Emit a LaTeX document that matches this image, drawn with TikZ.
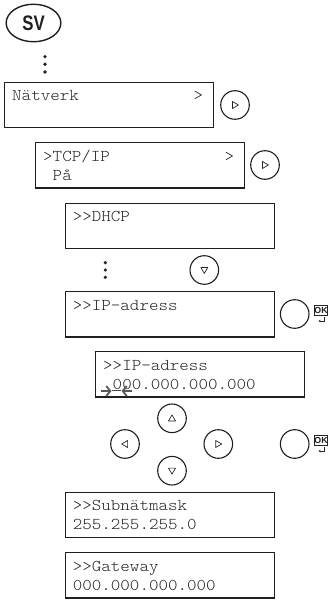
\documentclass[tikz,border=0pt]{standalone}
\usepackage{fontspec}
\usetikzlibrary{shapes.geometric,arrows.meta}
\newfontfamily\lcdfont[FakeStretch=1.1]{Latin Modern Mono Light}
\newfontfamily\labelfont{Liberation Sans}
\begin{document}
\begin{tikzpicture}[x=1pt,y=-1pt,
  lcd/.style={draw=black!88, line width=1.4pt, minimum width=209pt, minimum height=45.3pt,
    anchor=north west, inner sep=0pt, outer sep=0pt},
  lcdtext/.style={anchor=base west, inner sep=0pt,
    font=\lcdfont\fontsize{16.5}{18}\selectfont, text=black!85},
  key/.style={circle, draw=black!88, line width=1.1pt, minimum size=28.6pt, inner sep=0pt},
  glyph/.style={draw=black!85, line width=0.7pt, line join=round},
  dot/.style={circle, fill=black!88, minimum size=3.6pt, inner sep=0pt},
  okbox/.style={draw=black!85, line width=0.6pt, minimum width=12pt, minimum height=10pt,
    inner sep=0pt, font=\labelfont\bfseries\fontsize{8.8}{8.8}\selectfont, text=black!88},
  enter/.style={draw=black!85, line width=0.7pt, -{Stealth[length=2pt,width=2.6pt]}},
  cursor/.style={draw=black!65, line width=1.9pt, -{Straight Barb[length=4pt,width=10pt]}},
  tri/.pic={\draw[glyph] (-2.6,-3.5) -- (3.4,0) -- (-2.6,3.5) -- cycle;}
]
\useasboundingbox (0,0) rectangle (333,601);

% language tag
\node[ellipse, draw=black!88, line width=1.4pt, minimum width=54.7pt, minimum height=37.5pt,
  inner sep=0pt] (sv) at (33.5,23) {};
\node[font=\labelfont\bfseries\fontsize{21}{21}\selectfont, xscale=0.8, text=black!88,
  inner sep=0pt] (svtext) at (33.5,23.5) {SV};

% ellipsis below the tag
\node[dot] (d1) at (45,56.7) {};
\node[dot] (d2) at (45,64.3) {};
\node[dot] (d3) at (45,72) {};

% display panels
\node[lcd] (net) at (4.7,82.3) {};
\node[lcdtext] (netA) at ([xshift=7.3pt,yshift=-18.5pt]net.north west) {Nätverk};
\node[lcdtext] (netB) at ([xshift=188.6pt,yshift=-18.5pt]net.north west) {>};

\node[lcd] (tcp) at (35.7,142.7) {};
\node[lcdtext] (tcpA) at ([xshift=7.3pt,yshift=-18.5pt]tcp.north west) {>TCP/IP};
\node[lcdtext] (tcpB) at ([xshift=188.6pt,yshift=-18.5pt]tcp.north west) {>};
\node[lcdtext] (tcpC) at ([xshift=16.84pt,yshift=-37.5pt]tcp.north west) {På};

\node[lcd] (dhcp) at (65.3,203.3) {};
\node[lcdtext] (dhcpA) at ([xshift=7.3pt,yshift=-18.5pt]dhcp.north west) {>>DHCP};

\node[lcd] (ip) at (65.3,291.7) {};
\node[lcdtext] (ipA) at ([xshift=7.3pt,yshift=-18.5pt]ip.north west) {>>IP-adress};

\node[lcd] (ipedit) at (95.7,351.7) {};
\node[lcdtext] (ipeditA) at ([xshift=7.3pt,yshift=-18.5pt]ipedit.north west) {>>IP-adress};
\node[lcdtext] (ipeditB) at ([xshift=16.84pt,yshift=-37.5pt]ipedit.north west) {000.000.000.000};

\node[lcd] (mask) at (65.3,492.3) {};
\node[lcdtext] (maskA) at ([xshift=7.3pt,yshift=-18.5pt]mask.north west) {>>Subnätmask};
\node[lcdtext] (maskB) at ([xshift=7.3pt,yshift=-37.5pt]mask.north west) {255.255.255.0};

\node[lcd] (gw) at (65.3,552.7) {};
\node[lcdtext] (gwA) at ([xshift=7.3pt,yshift=-18.5pt]gw.north west) {>>Gateway};
\node[lcdtext] (gwB) at ([xshift=7.3pt,yshift=-37.5pt]gw.north west) {000.000.000.000};

% cursor on the first digit
\coordinate (cl) at (101,391);
\coordinate (cr) at (132,391);
\draw[draw=black!70, line width=0.7pt] (112,390) -- (121,390);
\draw[cursor] (cl) -- ++(10.5,0);
\draw[cursor] (cr) -- ++(-10.5,0);

% ellipsis and keys
\node[dot] (e1) at (105.3,262.7) {};
\node[dot] (e2) at (105.3,270) {};
\node[dot] (e3) at (105.3,277.3) {};

\node[key] (kNet) at (235,105) {};
\pic at (kNet.center) {tri};
\node[key] (kTcp) at (265,165) {};
\pic at (kTcp.center) {tri};
\node[key] (kDownA) at (204.3,270) {};
\pic[rotate=-90] at (kDownA.center) {tri};

\node[key] (kOkA) at (294.7,314) {};
\node[okbox] (okA) at (321,310.5) {OK};
\draw[enter] (324.6,317) -- (324.6,321) -- (318.6,321);

\node[key] (kUp) at (172,418.3) {};
\pic[rotate=90] at (kUp.center) {tri};
\node[key] (kLeft) at (125,444) {};
\pic[rotate=180] at (kLeft.center) {tri};
\node[key] (kRight) at (218.3,444) {};
\pic at (kRight.center) {tri};
\node[key] (kDownB) at (172,470.7) {};
\pic[rotate=-90] at (kDownB.center) {tri};

\node[key] (kOkB) at (294.7,444) {};
\node[okbox] (okB) at (321,440.5) {OK};
\draw[enter] (324.6,447) -- (324.6,451) -- (318.6,451);
\end{tikzpicture}
\end{document}
